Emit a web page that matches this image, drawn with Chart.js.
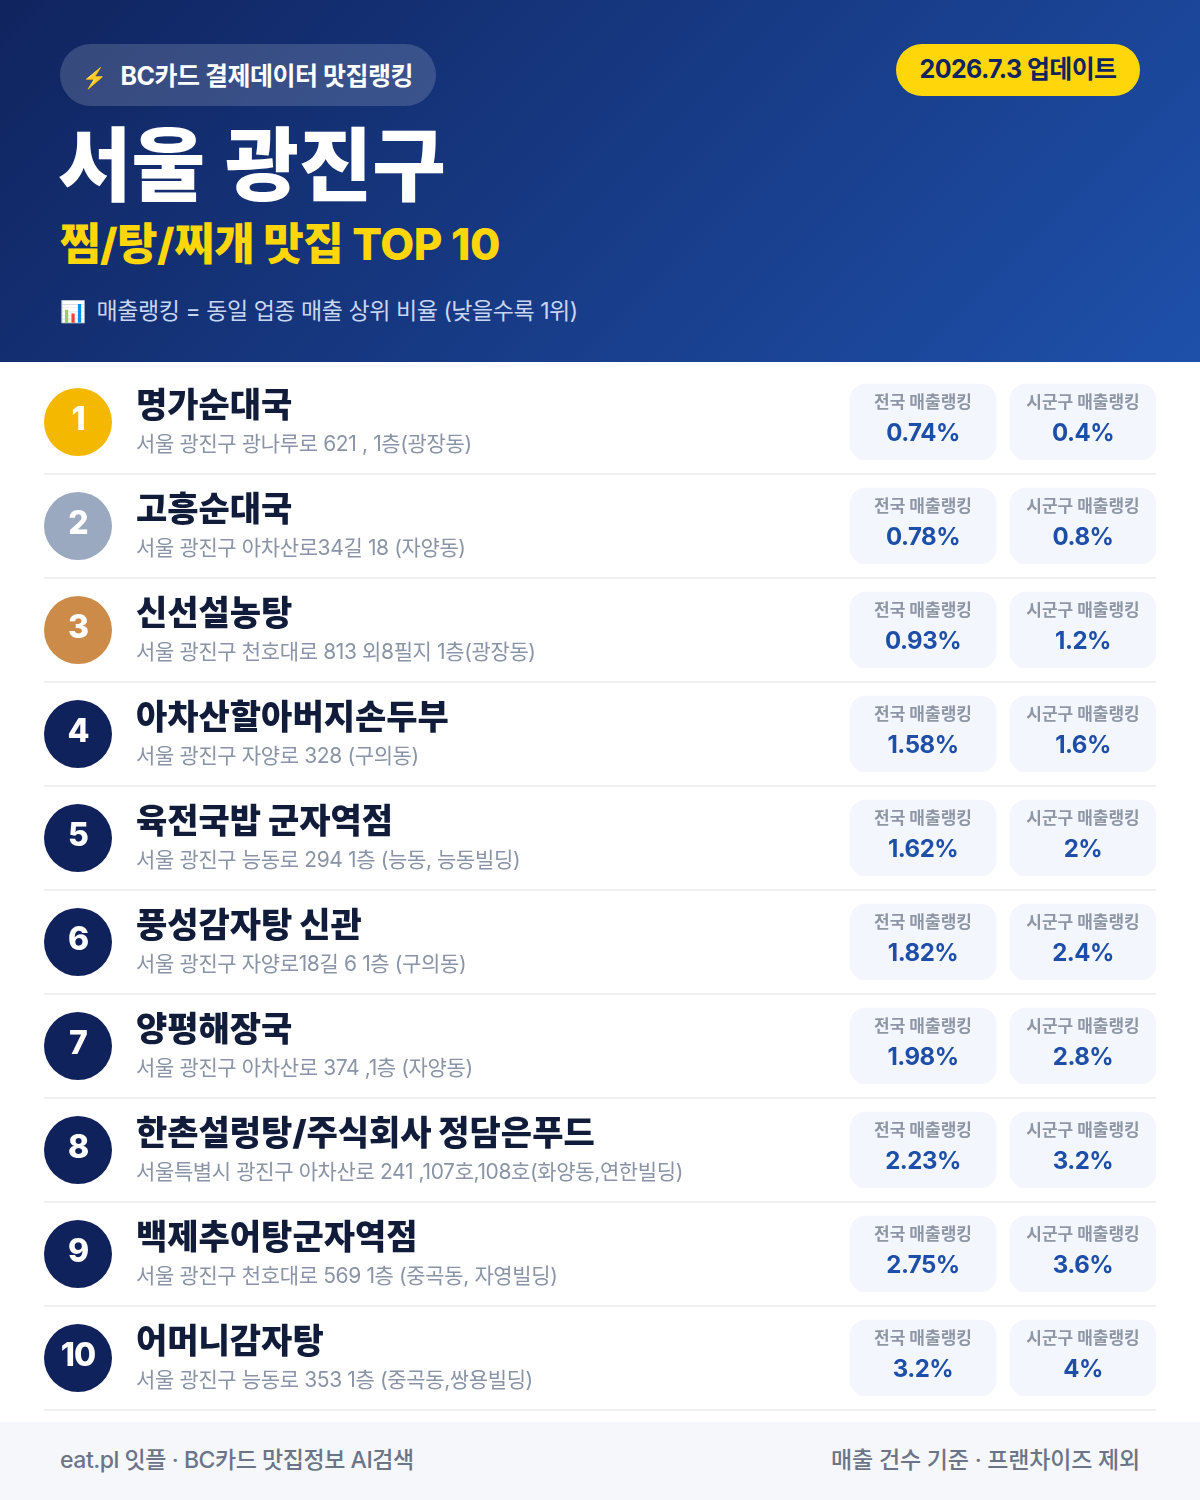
<!DOCTYPE html>
<html lang="ko">
<head>
<meta charset="utf-8">
<script src="https://cdn.jsdelivr.net/npm/chart.js@4"></script>
<style>
    * { box-sizing: border-box; margin: 0; padding: 0; }
    body { width: 1200px; height: 1500px; background: #fff; overflow: hidden; font-family: Inter, "Noto Sans CJK KR", sans-serif; }
    #header { position: relative; height: 362px; background: linear-gradient(135deg, #10245f 0%, #1e50aa 100%); }
    #header div { position: absolute; white-space: nowrap; }
    #header .icon { font-size: 20px; margin-right: 14px; }
    #badge { left: 60px; top: 44px; width: 376px; height: 62px; border-radius: 31px; background: rgba(255,255,255,.16); color: #fff; font-size: 25px; font-weight: 700; line-height: 65px; padding-left: 22px; letter-spacing: -0.5px; }
    #update { left: 896px; top: 44px; width: 244px; height: 52px; border-radius: 26px; background: #ffd60a; color: #10245f; font-size: 25px; font-weight: 700; line-height: 50px; text-align: center; letter-spacing: -0.6px; }
    #title { left: 58px; top: 105px; color: #fff; font-size: 80px; font-weight: 900; line-height: 120px; word-spacing: 4px; }
    #subtitle { left: 60px; top: 212px; color: #ffd60a; font-size: 44px; font-weight: 800; line-height: 64px; letter-spacing: -0.5px; }
    #note { left: 60px; top: 293px; color: #c8d6f2; font-size: 23px; line-height: 36px; letter-spacing: -0.45px; }
    #note .icon { font-size: 21px; margin-right: 11px; }
    #chartBox { position: absolute; left: 0; top: 362px; }
    #footer { position: absolute; left: 0; top: 1422px; width: 1200px; height: 78px; background: #f5f7fb; color: #6b7587; font-size: 23px; font-weight: 500; line-height: 76px; padding: 0 60px; display: flex; justify-content: space-between; letter-spacing: -0.45px; }
    #footer span + span { letter-spacing: -0.2px; }
</style>
</head>
<body>
<div id="header">
    <div id="badge"><span class="icon">⚡</span>BC카드 결제데이터 맛집랭킹</div>
    <div id="update">2026.7.3 업데이트</div>
    <div id="title">서울 광진구</div>
    <div id="subtitle">찜/탕/찌개 맛집 TOP 10</div>
    <div id="note"><span class="icon">📊</span>매출랭킹 = 동일 업종 매출 상위 비율 (낮을수록 1위)</div>
</div>
<div id="chartBox"><canvas id="rankChart" width="1200" height="1060"></canvas></div>
<div id="footer"><span>eat.pl 잇플 · BC카드 맛집정보 AI검색</span><span>매출 건수 기준 · 프랜차이즈 제외</span></div>

<script>
// Données du classement
const ranks = ['1', '2', '3', '4', '5', '6', '7', '8', '9', '10'];
const names = ['명가순대국', '고흥순대국', '신선설농탕', '아차산할아버지손두부', '육전국밥 군자역점', '풍성감자탕 신관', '양평해장국', '한촌설렁탕/주식회사 정담은푸드', '백제추어탕군자역점', '어머니감자탕'];
const addresses = [
    '서울 광진구 광나루로 621 , 1층(광장동)',
    '서울 광진구 아차산로34길 18 (자양동)',
    '서울 광진구 천호대로 813 외8필지 1층(광장동)',
    '서울 광진구 자양로 328 (구의동)',
    '서울 광진구 능동로 294 1층 (능동, 능동빌딩)',
    '서울 광진구 자양로18길 6 1층 (구의동)',
    '서울 광진구 아차산로 374 ,1층 (자양동)',
    '서울특별시 광진구 아차산로 241 ,107호,108호(화양동,연한빌딩)',
    '서울 광진구 천호대로 569 1층 (중곡동, 자영빌딩)',
    '서울 광진구 능동로 353 1층 (중곡동,쌍용빌딩)'
];
const nationalRank = [0.74, 0.78, 0.93, 1.58, 1.62, 1.82, 1.98, 2.23, 2.75, 3.2];
const districtRank = [0.4, 0.8, 1.2, 1.6, 2, 2.4, 2.8, 3.2, 3.6, 4];
const nationalLabel = '전국 매출랭킹';
const districtLabel = '시군구 매출랭킹';

const FONT = 'Inter, "Noto Sans CJK KR", sans-serif';
const BADGE_X = 78;
const NAME_X = 136;
const NATIONAL_BOX = [850, 996];
const DISTRICT_BOX = [1010, 1156];

function badgeColor(i) {
    return ['#f4b800', '#9aa8c0', '#cd8b4a'][i] || '#10225c';
}

// Ecrire un texte sur le canvas
function drawText(ctx, text, x, y, font, color, align, spacing) {
    ctx.font = font + ' ' + FONT;
    ctx.fillStyle = color;
    ctx.textAlign = align || 'left';
    ctx.textBaseline = 'middle';
    ctx.letterSpacing = (spacing || 0) + 'px';
    ctx.fillText(text, x, y);
}

// Textes de chaque ligne, placés avec les échelles du graphique
const rowTextPlugin = {
    id: 'rowText',
    afterDatasetsDraw(chart) {
        const { ctx, scales: { x, y } } = chart;
        const midNational = x.getPixelForValue((NATIONAL_BOX[0] + NATIONAL_BOX[1]) / 2);
        const midDistrict = x.getPixelForValue((DISTRICT_BOX[0] + DISTRICT_BOX[1]) / 2);
        ctx.save();
        ranks.forEach((rank, i) => {
            const cy = y.getPixelForValue(i);
            drawText(ctx, rank, x.getPixelForValue(BADGE_X), cy - 2, '800 32px', '#fff', 'center', -1);
            drawText(ctx, names[i], x.getPixelForValue(NAME_X), cy - 15, '900 34px', '#111c3a', 'left');
            drawText(ctx, addresses[i], x.getPixelForValue(NAME_X), cy + 23, '400 21px', '#8a94a6', 'left', -0.37);
            drawText(ctx, nationalLabel, midNational, cy - 19, '700 17px', '#8e96a6', 'center');
            drawText(ctx, nationalRank[i] + '%', midNational, cy + 12, '700 24px', '#1e4fa8', 'center', -0.5);
            drawText(ctx, districtLabel, midDistrict, cy - 19, '700 17px', '#8e96a6', 'center');
            drawText(ctx, districtRank[i] + '%', midDistrict, cy + 12, '700 24px', '#1e4fa8', 'center', -0.5);
        });
        ctx.restore();
    }
};

document.addEventListener('DOMContentLoaded', () => {
    const boxStyle = { backgroundColor: '#f3f6fc', borderRadius: 16, borderSkipped: false, barThickness: 76, grouped: false };
    new Chart(document.getElementById('rankChart'), {
        type: 'bar',
        data: {
            labels: ranks,
            datasets: [
                { label: nationalLabel, data: nationalRank.map(() => NATIONAL_BOX), ...boxStyle },
                { label: districtLabel, data: districtRank.map(() => DISTRICT_BOX), ...boxStyle },
                { type: 'line', label: 'rank', data: ranks.map(() => BADGE_X), showLine: false, clip: false, pointRadius: 34, pointBorderWidth: 0, pointBackgroundColor: ranks.map((r, i) => badgeColor(i)) }
            ]
        },
        options: {
            indexAxis: 'y',
            responsive: false,
            animation: false,
            layout: { autoPadding: false, padding: { left: 44, right: 44, top: 8, bottom: 12 } },
            plugins: { legend: { display: false }, tooltip: { enabled: false } },
            scales: {
                x: { type: 'linear', display: false, min: 44, max: 1156 },
                y: {
                    type: 'category',
                    afterFit: scale => { scale.width = 0; },
                    ticks: { display: false },
                    border: { display: false },
                    grid: { offset: true, lineWidth: 2, drawTicks: false, color: ctx => ctx.index === 0 ? 'transparent' : '#eef0f3' }
                }
            }
        },
        plugins: [rowTextPlugin]
    });
});
</script>
</body>
</html>
